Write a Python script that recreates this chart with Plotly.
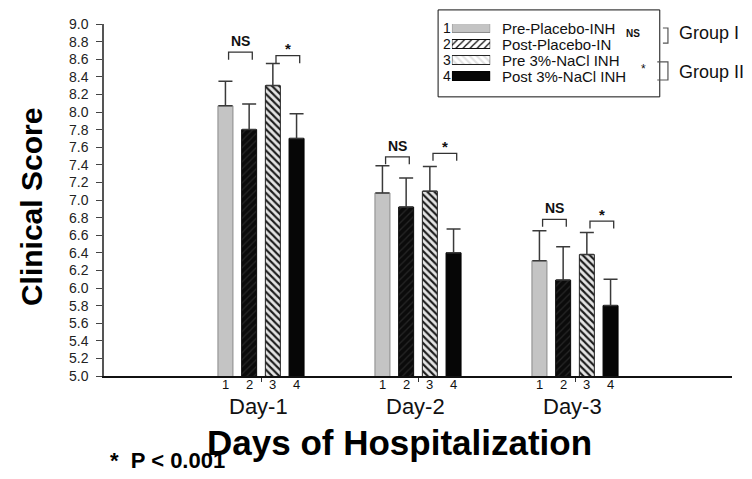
import plotly.graph_objects as go

# ---------------- data ----------------
days = ["Day-1", "Day-2", "Day-3"]
day_pos = [1, 2, 3]
series_names = ["Pre-Placebo-INH", "Post-Placebo-IN", "Pre 3%-NaCl INH", "Post 3%-NaCl INH"]
bar_numbers = ["1", "2", "3", "4"]
pre_placebo = [8.07, 7.08, 6.31]
post_placebo = [7.80, 6.92, 6.09]
pre_nacl = [8.30, 7.10, 6.38]
post_nacl = [7.70, 6.40, 5.80]
pre_placebo_err = [0.28, 0.31, 0.34]
post_placebo_err = [0.29, 0.33, 0.38]
pre_nacl_err = [0.25, 0.28, 0.25]
post_nacl_err = [0.28, 0.27, 0.30]
ns_bracket_y = [8.68, 7.49, 6.78]
star_bracket_y = [8.64, 7.53, 6.76]
group_labels = ["Group I", "Group II"]
footnote = "*  P < 0.001"

values = [pre_placebo, post_placebo, pre_nacl, post_nacl]
errors = [pre_placebo_err, post_placebo_err, pre_nacl_err, post_nacl_err]

# ---------------- styles ----------------
FONT = "Liberation Sans, Arial, Helvetica, sans-serif"
styles = [
    dict(color="#c4c4c4", line="#8a8a8a", shape="", fg="#c4c4c4", bg="#c4c4c4", sol=0.3),
    dict(color="#0b0b0b", line="#0a0a0a", shape="/", fg="#262626", bg="#0b0b0b", sol=0.25),
    dict(color="#e2e2e2", line="#222222", shape="\\", fg="#1c1c1c", bg="#e4e4e4", sol=0.42),
    dict(color="#060606", line="#000000", shape="", fg="#060606", bg="#060606", sol=0.3),
]
SLOT = 0.151
BW = 0.0955

fig = go.Figure()

for i, (name, vals, errs, st) in enumerate(zip(series_names, values, errors, styles)):
    d = (i - 1.5) * SLOT
    marker = dict(color=st["color"], line=dict(color=st["line"], width=1))
    if st["shape"]:
        marker["pattern"] = dict(shape=st["shape"], fgcolor=st["fg"], bgcolor=st["bg"],
                                 size=5, solidity=st["sol"], fillmode="replace")
    fig.add_trace(go.Bar(
        x=day_pos, y=vals, name=name, width=BW, offset=d - BW / 2,
        marker=marker, showlegend=False,
        error_y=dict(type="data", array=errs, arrayminus=[0] * len(errs), symmetric=False,
                     color="#3a3a3a", thickness=1.5, width=7),
        xaxis="x", yaxis="y",
    ))

# legend swatches drawn as a small bar subplot
fig.add_trace(go.Bar(
    x=[1] * 4, y=[0, 1, 2, 3], orientation="h", width=0.56,
    marker=dict(color=[s["color"] for s in styles],
                line=dict(color=[s["line"] for s in styles], width=1),
                pattern=dict(shape=[s["shape"] for s in styles],
                             fgcolor=[s["fg"] for s in styles],
                             bgcolor=[s["bg"] for s in styles],
                             size=5, solidity=[s["sol"] for s in styles], fillmode="replace")),
    showlegend=False, xaxis="x2", yaxis="y2", hoverinfo="skip",
))

shapes = []
annotations = []

# significance brackets
for k, dp in enumerate(day_pos):
    for (a, b, yv, txt, tsz, tshift) in [(0, 1, ns_bracket_y[k], "NS", 14, 11),
                                          (2, 3, star_bracket_y[k], "*", 15, 7)]:
        xa = dp + (a - 1.5) * SLOT + 0.02
        xb = dp + (b - 1.5) * SLOT + 0.02
        shapes.append(dict(type="path", xref="x", yref="y",
                           path=f"M {xa},{yv - 0.085} L {xa},{yv} L {xb},{yv} L {xb},{yv - 0.085}",
                           line=dict(color="#333333", width=1.3)))
        annotations.append(dict(x=(xa + xb) / 2, y=yv, xref="x", yref="y", text=f"<b>{txt}</b>",
                                showarrow=False, yanchor="middle", yshift=tshift,
                                font=dict(size=tsz, color="#111111", family=FONT)))

# bar numbers and day labels
for k, dp in enumerate(day_pos):
    for i, num in enumerate(bar_numbers):
        annotations.append(dict(x=dp + (i - 1.5) * SLOT, y=0, xref="x", yref="paper",
                                text=num, showarrow=False, yanchor="middle", yshift=-8,
                                font=dict(size=13, color="#111111", family=FONT)))
    annotations.append(dict(x=dp, y=0, xref="x", yref="paper", text=days[k], showarrow=False,
                            yanchor="middle", yshift=-30, xshift=-3,
                            font=dict(size=22, color="#111111", family=FONT)))

# axis titles
annotations.append(dict(x=0.470, y=0, xref="paper", yref="paper",
                        text="<b>Days of Hospitalization</b>", showarrow=False,
                        yanchor="middle", yshift=-66,
                        font=dict(size=35, color="#000000", family=FONT)))
annotations.append(dict(x=-0.1162, y=0.480, xref="paper", yref="paper",
                        text="<b>Clinical Score</b>", showarrow=False, textangle=-90,
                        xanchor="center", yanchor="middle",
                        font=dict(size=30, color="#000000", family=FONT)))
annotations.append(dict(x=0.006, y=0, xref="paper", yref="paper",
                        text=f"<b>{footnote}</b>", showarrow=False, xanchor="left",
                        yanchor="middle", yshift=-84,
                        font=dict(size=22, color="#000000", family=FONT)))

# legend box
shapes.append(dict(type="rect", xref="paper", yref="paper", x0=0.532, x1=0.885, y0=0.793, y1=1.040,
                   line=dict(color="#111111", width=1), fillcolor="rgba(0,0,0,0)"))
for r, (num, name) in enumerate(zip(bar_numbers, series_names)):
    annotations.append(dict(x=0.554, y=r, xref="paper", yref="y2", text=num, showarrow=False,
                            xanchor="right", yanchor="middle", xshift=1,
                            font=dict(size=14, color="#111111", family=FONT)))
    annotations.append(dict(x=0.631, y=r, xref="paper", yref="y2", text=name, showarrow=False,
                            xanchor="left", yanchor="middle",
                            font=dict(size=15, color="#111111", family=FONT)))
annotations.append(dict(x=0.842, y=0.35, xref="paper", yref="y2", text="<b>NS</b>", showarrow=False,
                        xanchor="center", yanchor="middle", font=dict(size=10, color="#111111", family=FONT)))
annotations.append(dict(x=0.859, y=2.55, xref="paper", yref="y2", text="*", showarrow=False,
                        xanchor="center", yanchor="middle", font=dict(size=12, color="#111111", family=FONT)))
# group brackets
shapes.append(dict(type="path", xref="paper", yref="y2",
                   path="M 0.890,0.0 L 0.898,0.0 L 0.898,0.94 L 0.890,0.94",
                   line=dict(color="#555555", width=1.2)))
shapes.append(dict(type="path", xref="paper", yref="y2",
                   path="M 0.881,2.12 L 0.898,2.12 L 0.898,3.25 L 0.881,3.25",
                   line=dict(color="#555555", width=1.2)))
annotations.append(dict(x=0.912, y=0.33, xref="paper", yref="y2", text=group_labels[0], showarrow=False,
                        xanchor="left", yanchor="middle", font=dict(size=18, color="#111111", family=FONT)))
annotations.append(dict(x=0.912, y=2.72, xref="paper", yref="y2", text=group_labels[1], showarrow=False,
                        xanchor="left", yanchor="middle", font=dict(size=18, color="#111111", family=FONT)))

fig.update_layout(
    width=752, height=479,
    margin=dict(l=104, r=20, t=24, b=103),
    paper_bgcolor="white", plot_bgcolor="white",
    barmode="overlay",
    font=dict(family=FONT, color="#111111"),
    xaxis=dict(range=[0, 4], tickvals=day_pos, ticks="outside", ticklen=4, tickcolor="#333333",
               showticklabels=False, showgrid=False, zeroline=False,
               showline=True, linecolor="#111111", linewidth=1.5, fixedrange=True),
    yaxis=dict(range=[5.0, 9.0], dtick=0.2, tick0=5.0, tickformat=".1f", ticks="outside",
               ticklen=6, tickcolor="#444444", tickwidth=1, ticklabelstandoff=5,
               tickfont=dict(size=14, color="#222222", family=FONT),
               showgrid=False, zeroline=False, showline=True, linecolor="#555555", linewidth=1.5),
    xaxis2=dict(domain=[0.554, 0.615], range=[0, 1], visible=False, anchor="y2"),
    yaxis2=dict(domain=[0.8295, 1.0], range=[3.5, -0.25], visible=False, anchor="x2"),
    shapes=shapes,
    annotations=annotations,
    showlegend=False,
)

fig.write_html("out.html")
